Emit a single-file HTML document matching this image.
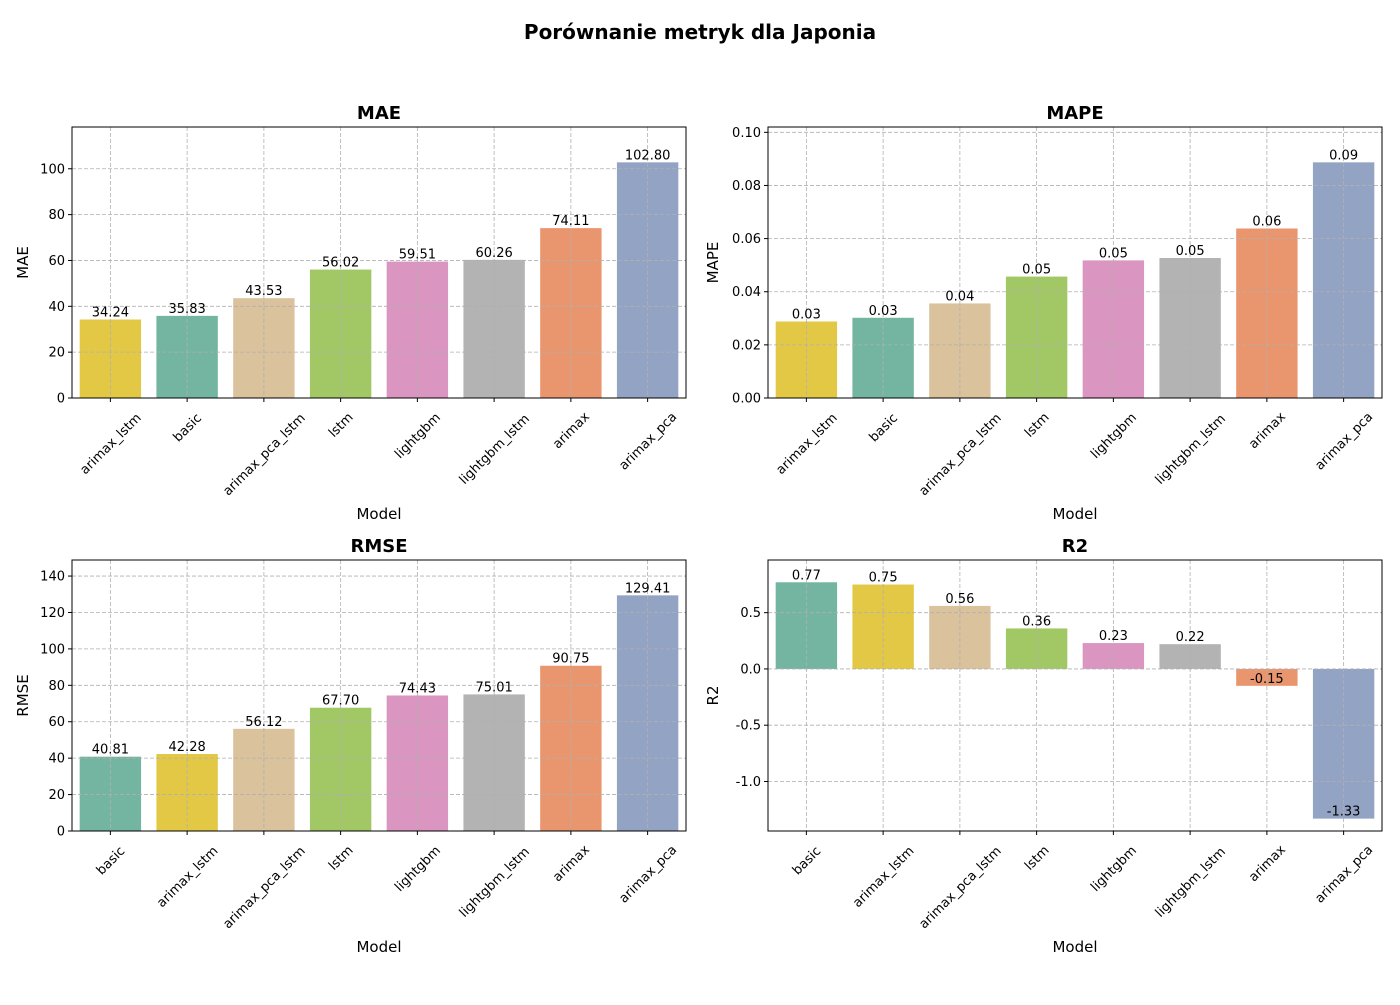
<!DOCTYPE html>
<html><head><meta charset="utf-8"><style>
body{margin:0;background:#fff;font-family:"Liberation Sans","DejaVu Sans",sans-serif}
svg text{font-family:"DejaVu Sans","Liberation Sans",sans-serif}
</style></head><body>
<svg id="c" width="1400" height="1000" xmlns="http://www.w3.org/2000/svg">
<text x="700" y="39" text-anchor="middle" font-size="20" font-weight="bold">Porównanie metryk dla Japonia</text>
</svg>
<script>
const maeModels=["arimax_lstm","basic","arimax_pca_lstm","lstm","lightgbm","lightgbm_lstm","arimax","arimax_pca"];
const maeValues=[34.24,35.83,43.53,56.02,59.51,60.26,74.11,102.80];
const mapeModels=["arimax_lstm","basic","arimax_pca_lstm","lstm","lightgbm","lightgbm_lstm","arimax","arimax_pca"];
const mapeValues=[0.0288,0.0302,0.0356,0.0457,0.0518,0.0527,0.0638,0.0887];
const rmseModels=["basic","arimax_lstm","arimax_pca_lstm","lstm","lightgbm","lightgbm_lstm","arimax","arimax_pca"];
const rmseValues=[40.81,42.28,56.12,67.70,74.43,75.01,90.75,129.41];
const r2Models=["basic","arimax_lstm","arimax_pca_lstm","lstm","lightgbm","lightgbm_lstm","arimax","arimax_pca"];
const r2Values=[0.77,0.75,0.56,0.36,0.23,0.22,-0.15,-1.33];
const maeTicks=[0,20,40,60,80,100];
const mapeTicks=[0,0.02,0.04,0.06,0.08,0.10];
const rmseTicks=[0,20,40,60,80,100,120,140];
const r2Ticks=[-1.0,-0.5,0.0,0.5];
const colors={basic:"#73b5a0",arimax_lstm:"#e3c845",arimax_pca_lstm:"#dac29d",lstm:"#a2c765",lightgbm:"#da96c0",lightgbm_lstm:"#b3b3b3",arimax:"#e9966f",arimax_pca:"#93a3c4"};
const NS="http://www.w3.org/2000/svg";
const svg=document.getElementById('c');
function mk(tag,attrs,parent){const e=document.createElementNS(NS,tag);for(const k in attrs)e.setAttribute(k,attrs[k]);(parent||svg).appendChild(e);return e;}
function panel(o){
  const g=mk('g',{});
  
  
  const L=o.x,T=o.y,W=614,H=271;
  const ymin=o.ymin,ymax=o.ymax;
  const sy=v=>T+H-(v-ymin)/(ymax-ymin)*H;
  const bw=W/o.cats.length;
  const sx=i=>L+bw*(i+0.5);
  o.vals.forEach((v,i)=>{
    const y0=sy(0),y1=sy(v);
    const r=mk('rect',{x:sx(i)-bw*0.4,y:Math.min(y0,y1),width:bw*0.8,height:Math.abs(y1-y0),fill:colors[o.cats[i]]},g);
    
    
  });
  o.ticks.forEach(t=>{
    const y=sy(t);
    mk('line',{x1:L,x2:L+W,y1:y,y2:y,stroke:'#b0b0b0','stroke-dasharray':'4,2','stroke-width':0.8},g);
    mk('line',{x1:L-4,x2:L,y1:y,y2:y,stroke:'#000'},g);
    const tx=mk('text',{x:L-7,y:y+4.5,'text-anchor':'end','font-size':13},g);
    tx.textContent=t.toFixed(o.tdec);
    
    
  });
  o.cats.forEach((c,i)=>{
    const x=sx(i);
    mk('line',{x1:x,x2:x,y1:T,y2:T+H,stroke:'#b0b0b0','stroke-dasharray':'4,2','stroke-width':0.8},g);
    mk('line',{x1:x,x2:x,y1:T+H,y2:T+H+4,stroke:'#000'},g);
    const half=c.length*7.6*0.707/2;
    const tx=mk('text',{x:0,y:0,'text-anchor':'middle','font-size':13,transform:`translate(${x},${T+H+12+half+4}) rotate(-45) translate(0,4.5)`},g);
    tx.textContent=c;
    
    
  });
  o.vals.forEach((v,i)=>{
    const tx=mk('text',{x:sx(i),y:sy(v)-3,'text-anchor':'middle','font-size':13},g);
    tx.textContent=v.toFixed(2);
    
    
  });
  mk('rect',{x:L,y:T,width:W,height:H,fill:'none',stroke:'#000','stroke-width':1},g);
  const tt=mk('text',{x:L+W/2,y:T-8,'text-anchor':'middle','font-size':18,'font-weight':'bold'},g);
  tt.textContent=o.title;
  
  
  const xl=mk('text',{x:L+W/2,y:T+H+121,'text-anchor':'middle','font-size':15},g);
  xl.textContent='Model';
  
  
  const yl=mk('text',{x:0,y:0,'text-anchor':'middle','font-size':15,transform:`translate(${L-o.ylo},${T+H/2}) rotate(-90)`},g);
  yl.textContent=o.title;
  
  
}
panel({name:'mae',title:'MAE',x:72,y:127,cats:maeModels,vals:maeValues,ticks:maeTicks,tdec:0,ymin:0,ymax:Math.max(...maeValues)*1.15,ylo:44});
panel({name:'mape',title:'MAPE',x:768,y:127,cats:mapeModels,vals:mapeValues,ticks:mapeTicks,tdec:2,ymin:0,ymax:Math.max(...mapeValues)*1.15,ylo:50});
panel({name:'rmse',title:'RMSE',x:72,y:560,cats:rmseModels,vals:rmseValues,ticks:rmseTicks,tdec:0,ymin:0,ymax:Math.max(...rmseValues)*1.15,ylo:44});
panel({name:'r2',title:'R2',x:768,y:560,cats:r2Models,vals:r2Values,ticks:r2Ticks,tdec:1,ymin:-1.44,ymax:0.968,ylo:50});
</script>
</body></html>
